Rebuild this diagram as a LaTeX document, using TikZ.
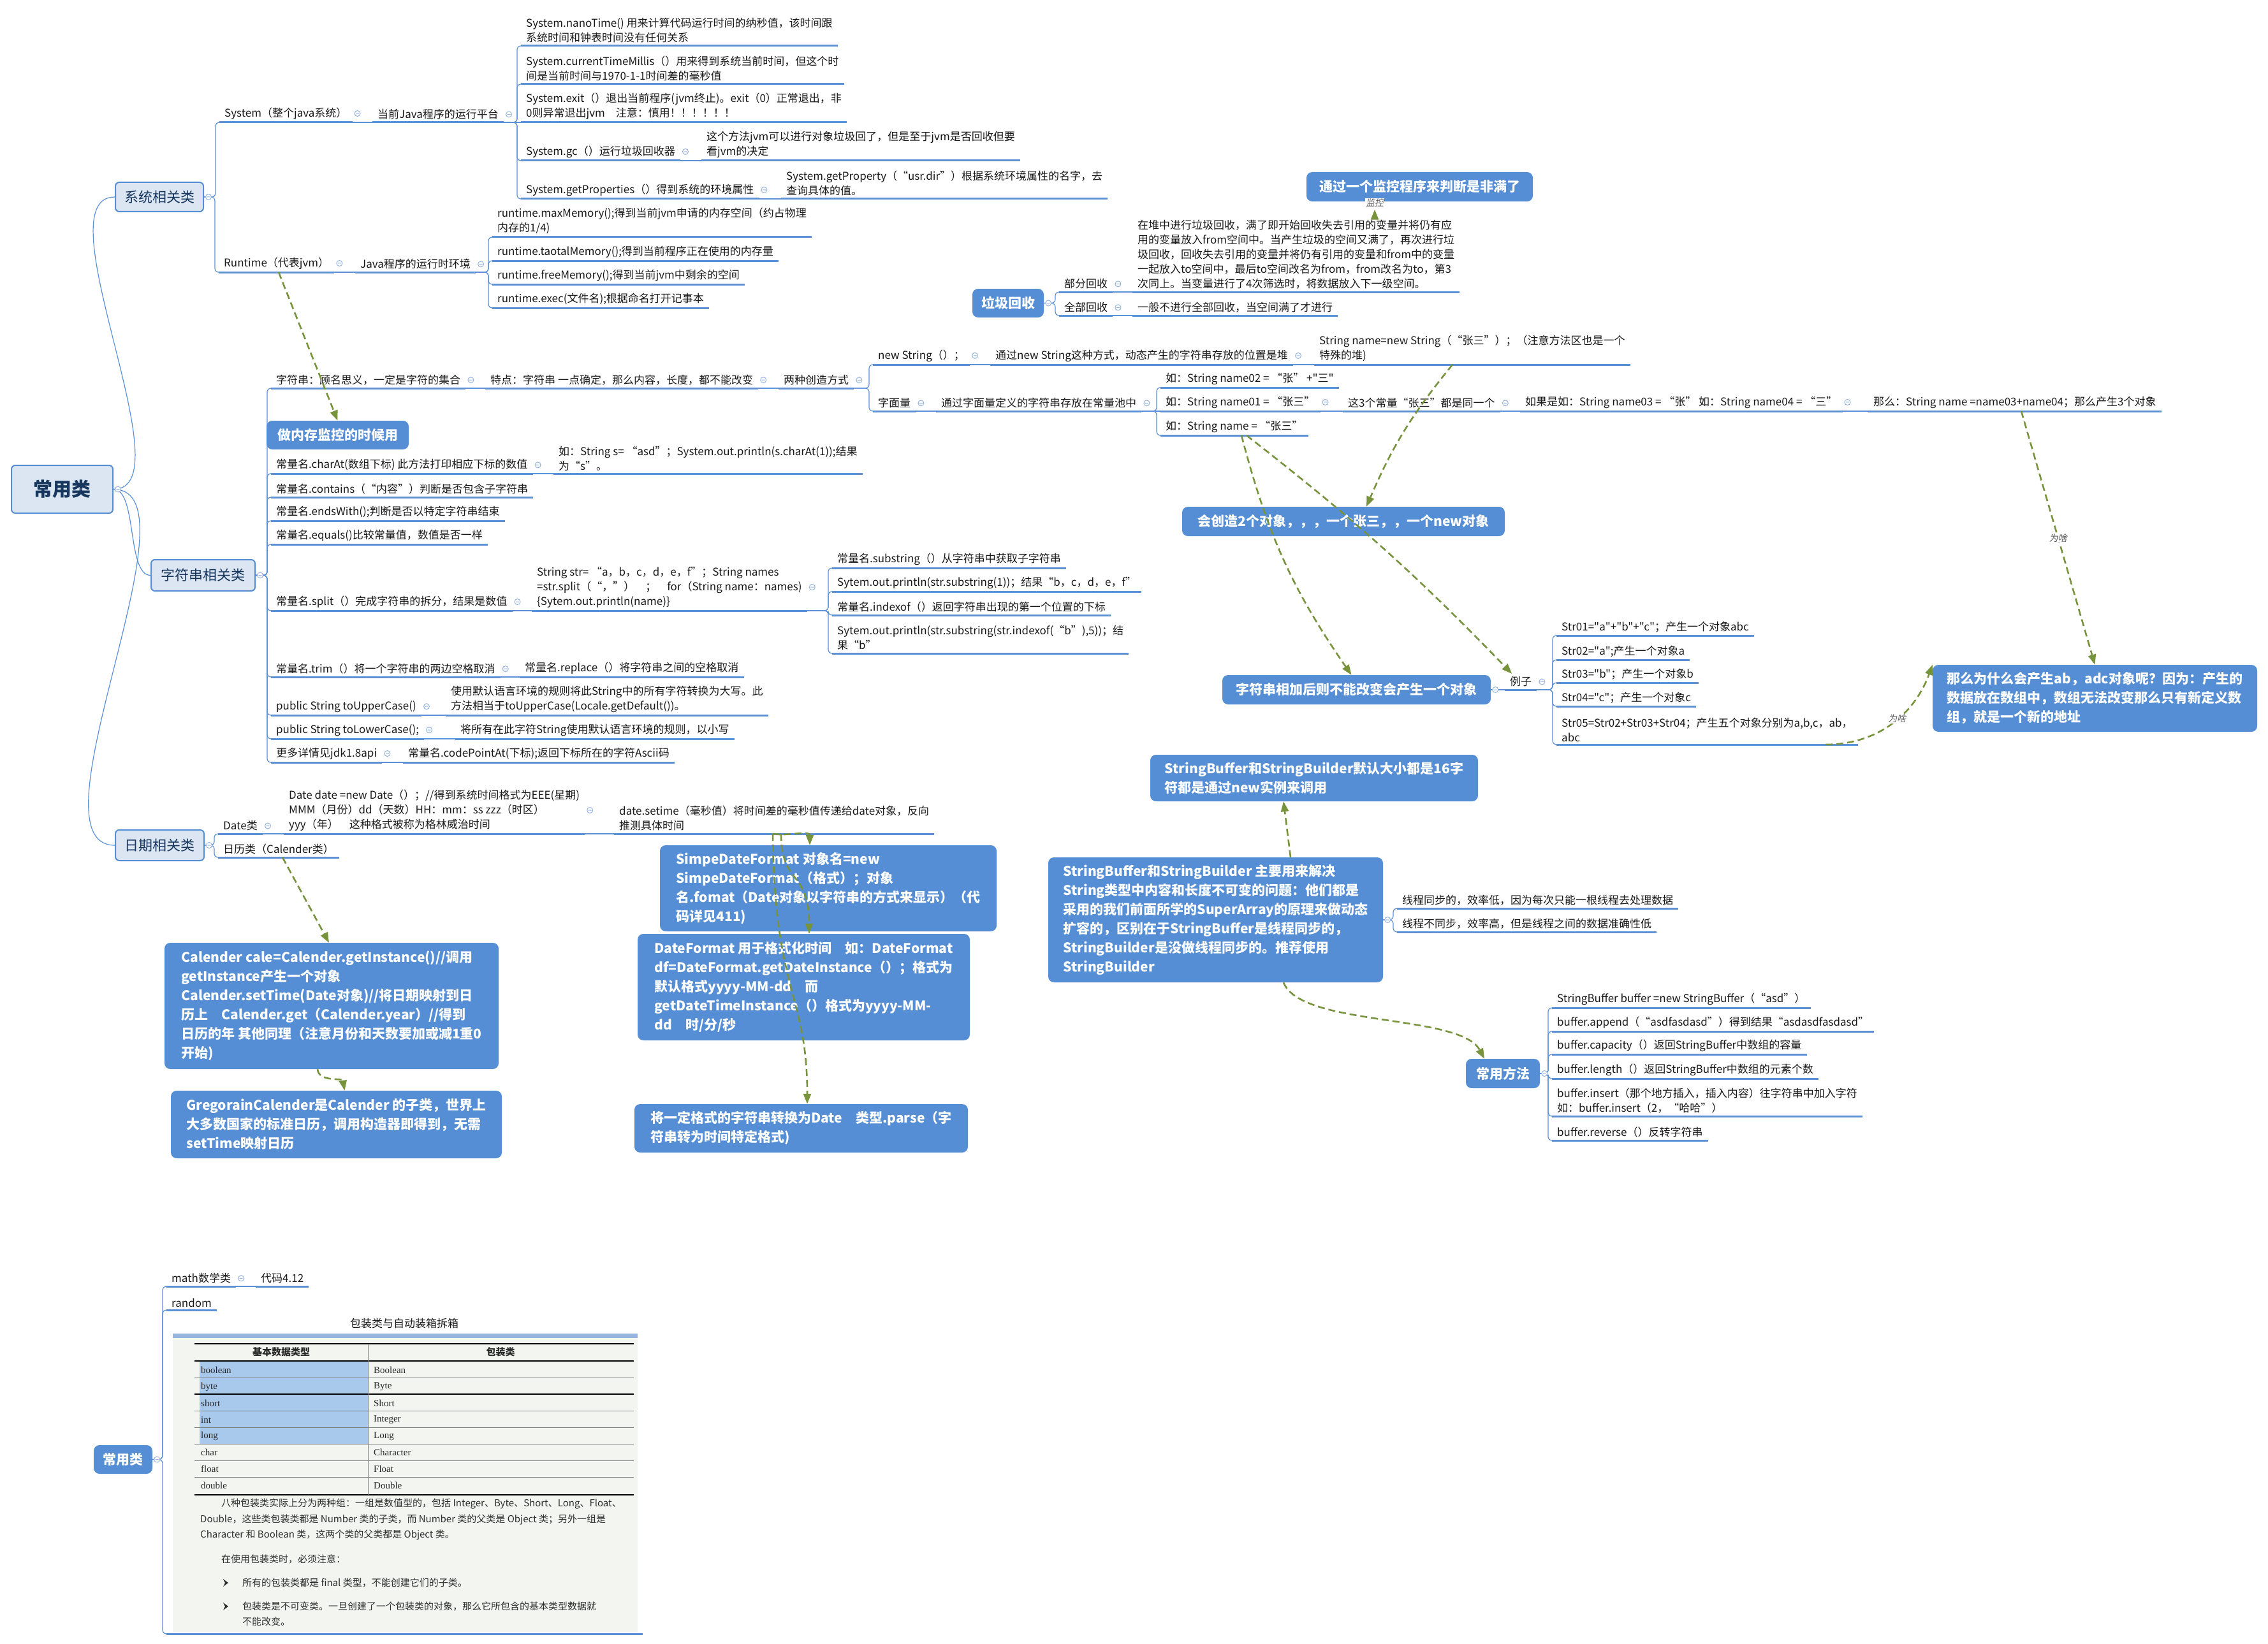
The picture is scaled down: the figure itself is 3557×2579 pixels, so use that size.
\documentclass[tikz,border=0pt]{standalone}
\usepackage{fontspec}
\newfontfamily\cjk{Noto Sans CJK SC}
\newfontfamily\tabserif{Liberation Serif}
\newfontfamily\slantcjk{Noto Sans CJK SC}[FakeSlant=0.2]
\usetikzlibrary{arrows.meta}

\definecolor{boxblue}{RGB}{85,142,213}
\definecolor{lineblue}{RGB}{91,143,214}
\definecolor{foldblue}{RGB}{150,180,225}
\definecolor{catfill}{RGB}{220,230,242}
\definecolor{cattext}{RGB}{23,55,94}
\definecolor{relgreen}{RGB}{119,147,60}
\definecolor{txt}{RGB}{25,25,25}
\definecolor{labelgray}{RGB}{90,90,90}
\definecolor{imgbg}{RGB}{243,245,241}
\definecolor{imgbar}{RGB}{150,182,224}
\definecolor{cellblue}{RGB}{168,200,236}
\definecolor{celltext}{RGB}{40,40,40}
\definecolor{paragray}{RGB}{45,45,45}

\newcommand\topicfont{\cjk\fontsize{17}{23}\selectfont}
\newcommand\boxfont{\cjk\bfseries\fontsize{21}{30}\selectfont}
\newcommand\catfont{\cjk\fontsize{22}{26}\selectfont}
\newcommand\rootfont{\cjk\bfseries\fontsize{30}{34}\selectfont}
\newcommand\cellfont{\tabserif\fontsize{15}{18}\selectfont}
\newcommand\parafont{\cjk\fontsize{15}{20}\selectfont}

\begin{document}
\begin{tikzpicture}[x=1pt,y=-1pt,
  ul/.style={draw=lineblue,line width=3pt},
  t/.style={anchor=south west,inner xsep=8pt,inner ysep=4.5pt,align=left,
    text=txt,font=\topicfont,
    append after command={(\tikzlastnode.south west) edge[ul] (\tikzlastnode.south east)}},
  link/.style={draw=lineblue,line width=1.2pt,rounded corners=6pt},
  fold/.style={draw=foldblue,fill=white,line width=1pt},
  bx/.style={fill=boxblue,rounded corners=9pt,text=white,font=\boxfont,
    align=left,inner xsep=13pt,inner ysep=4pt},
  cat/.style={fill=catfill,draw=boxblue,line width=2pt,rounded corners=6pt,
    text=cattext,font=\catfont,inner sep=0pt},
  rel/.style={draw=relgreen,line width=2.6pt,dash pattern=on 11pt off 6pt,
    -{Triangle[length=16pt,width=12pt]}},
  why/.style={font=\slantcjk\fontsize{14}{16}\selectfont,text=labelgray,fill=white,inner sep=1pt},
  cell/.style={anchor=west,font=\cellfont,text=celltext,inner sep=0pt},
  para/.style={anchor=west,font=\parafont,text=paragray,inner sep=0pt}]
\useasboundingbox (0,0) rectangle (3557,2579);
\fill[white] (0,0) rectangle (3557,2579);

% main branches
\node[cat,font=\rootfont,minimum width=159pt,minimum height=75pt] (root) at (97.5,767.5) {常用类};
\node[cat,minimum width=138pt,minimum height=46pt] (sysbox) at (250,309) {系统相关类};
\node[cat,minimum width=163pt,minimum height=49pt] (strbox) at (318.5,902.5) {字符串相关类};
\node[cat,minimum width=139pt,minimum height=48pt] (datebox) at (250.5,1326) {日期相关类};

% System / Runtime
\node[t] (sys) at (344,192) {System（整个java系统）};
\node[t] (sysplat) at (584,192) {当前Java程序的运行平台};
\node[t] (nano) at (817,72) {System.nanoTime() 用来计算代码运行时间的纳秒值，该时间跟\\系统时间和钟表时间没有任何关系};
\node[t] (ctm) at (817,132) {System.currentTimeMillis（）用来得到系统当前时间，但这个时\\间是当前时间与1970-1-1时间差的毫秒值};
\node[t] (exit) at (817,192) {System.exit（）退出当前程序(jvm终止)。exit（0）正常退出，非\\0则异常退出jvm\quad 注意：慎用！！！！！！};
\node[t] (gc) at (817,252) {System.gc（）运行垃圾回收器};
\node[t] (gcnote) at (1100,252) {这个方法jvm可以进行对象垃圾回了，但是至于jvm是否回收但要\\看jvm的决定};
\node[t] (prop) at (817,312) {System.getProperties（）得到系统的环境属性};
\node[t] (propnote) at (1225,312) {System.getProperty（“usr.dir”）根据系统环境属性的名字，去\\查询具体的值。};
\node[t] (rt) at (343,427) {Runtime（代表jvm）};
\node[t] (rtenv) at (557,427) {Java程序的运行时环境};
\node[t] (maxm) at (772,372) {runtime.maxMemory();得到当前jvm申请的内存空间（约占物理\\内存的1/4)};
\node[t] (totm) at (772,409) {runtime.taotalMemory();得到当前程序正在使用的内存量};
\node[t] (freem) at (772,446) {runtime.freeMemory();得到当前jvm中剩余的空间};
\node[t] (execm) at (772,483) {runtime.exec(文件名);根据命名打开记事本};

% garbage collection
\node[bx,minimum width=355pt,minimum height=46pt] (monbox) at (2226.5,293) {通过一个监控程序来判断是非满了};
\node[bx,minimum width=112pt,minimum height=45pt] (gcbox) at (1581,475.5) {垃圾回收};
\node[t] (part) at (1661,458) {部分回收};
\node[t] (partnote) at (1776,458) {在堆中进行垃圾回收，满了即开始回收失去引用的变量并将仍有应\\用的变量放入from空间中。当产生垃圾的空间又满了，再次进行垃\\圾回收，回收失去引用的变量并将仍有引用的变量和from中的变量\\一起放入to空间中，最后to空间改名为from，from改名为to，第3\\次同上。当变量进行了4次筛选时，将数据放入下一级空间。};
\node[t] (full) at (1661,495) {全部回收};
\node[t] (fullnote) at (1776,495) {一般不进行全部回收，当空间满了才进行};
\node[why] (monlbl) at (2156,318) {监控};

% String
\node[t] (strdef) at (425,609) {字符串：顾名思义，一定是字符的集合};
\node[t] (strfeat) at (761,609) {特点：字符串 一点确定，那么内容，长度，都不能改变};
\node[t] (strways) at (1221,609) {两种创造方式};
\node[t] (newstr) at (1369,572) {new String（）；};
\node[t] (newheap) at (1553,572) {通过new String这种方式，动态产生的字符串存放的位置是堆};
\node[t] (newex) at (2061,572) {String name=new String（“张三”）；（注意方法区也是一个\\特殊的堆)};
\node[t] (lit) at (1369,645) {字面量};
\node[t] (litpool) at (1468,645) {通过字面量定义的字符串存放在常量池中};
\node[t] (ex02) at (1820,608) {如：String name02 = “张” +"三"};
\node[t] (ex01) at (1820,645) {如：String name01 = “张三”};
\node[t] (exname) at (1820,683) {如：String name = “张三”};
\node[t] (same3) at (2106,645) {这3个常量“张三”都是同一个};
\node[t] (ex0304) at (2384,645) {如果是如：String name03 = “张” 如：String name04 = “三”};
\node[t] (three) at (2930,645) {那么：String name =name03+name04；那么产生3个对象};
\node[t] (charat) at (425,743) {常量名.charAt(数组下标) 此方法打印相应下标的数值};
\node[t] (charatnote) at (868,743) {如：String s= “asd”；System.out.println(s.charAt(1));结果\\为“s”。};
\node[t] (contains) at (425,780) {常量名.contains（“内容”）判断是否包含子字符串};
\node[t] (ends) at (425,817) {常量名.endsWith();判断是否以特定字符串结束};
\node[t] (equals) at (425,854) {常量名.equals()比较常量值，数值是否一样};
\node[t] (split) at (425,958) {常量名.split（）完成字符串的拆分，结果是数值};
\node[t] (splitnote) at (834,958) {String str= “a，b，c，d，e，f”；String names\\=str.split（“，”）\quad；\quad for（String name：names)\\\{Sytem.out.println(name)\}};
\node[t] (substr) at (1305,891) {常量名.substring（）从字符串中获取子字符串};
\node[t] (subex) at (1305,928) {Sytem.out.println(str.substring(1))；结果“b，c，d，e，f”};
\node[t] (indexof) at (1305,965) {常量名.indexof（）返回字符串出现的第一个位置的下标};
\node[t] (idxex) at (1305,1025) {Sytem.out.println(str.substring(str.indexof(“b”),5))；结\\果“b”};
\node[t] (trim) at (425,1062) {常量名.trim（）将一个字符串的两边空格取消};
\node[t] (replace) at (815,1062) {常量名.replace（）将字符串之间的空格取消};
\node[t] (upper) at (425,1122) {public String toUpperCase()};
\node[t] (uppernote) at (699,1122) {使用默认语言环境的规则将此String中的所有字符转换为大写。此\\方法相当于toUpperCase(Locale.getDefault())。};
\node[t] (lower) at (425,1159) {public String toLowerCase();};
\node[t] (lowernote) at (714,1159) {将所有在此字符String使用默认语言环境的规则，以小写};
\node[t] (more) at (425,1196) {更多详情见jdk1.8api};
\node[t] (codept) at (632,1196) {常量名.codePointAt(下标);返回下标所在的字符Ascii码};
\node[bx,minimum width=223pt,minimum height=45pt] (monuse) at (529.5,682.5) {做内存监控的时候用};
\node[bx,minimum width=506pt,minimum height=46pt] (nobox) at (2107,818) {会创造2个对象，，，一个张三，，一个new对象};
\node[bx,minimum width=421pt,minimum height=46pt] (addbox) at (2127.5,1082) {字符串相加后则不能改变会产生一个对象};
\node[t] (eg) at (2360,1082) {例子};
\node[t] (s1) at (2441,997) {Str01="a"+"b"+"c"；产生一个对象abc};
\node[t] (s2) at (2441,1035) {Str02="a";产生一个对象a};
\node[t] (s3) at (2441,1071) {Str03="b"；产生一个对象b};
\node[t] (s4) at (2441,1108) {Str04="c"；产生一个对象c};
\node[t] (s5) at (2441,1168) {Str05=Str02+Str03+Str04；产生五个对象分别为a,b,c，ab，\\abc};
\node[bx,minimum width=509pt,minimum height=105pt] (whybox) at (3285.5,1095.5) {那么为什么会产生ab，adc对象呢？因为：产生的\\数据放在数组中，数组无法改变那么只有新定义数\\组，就是一个新的地址};

% Date
\node[t] (dcls) at (342,1308) {Date类};
\node[t] (dnew) at (445,1308) {Date date =new Date（）；//得到系统时间格式为EEE(星期)\\MMM（月份）dd（天数）HH：mm：ss zzz（时区）\\yyy（年）\quad 这种格式被称为格林威治时间};
\node[t] (dset) at (963,1308) {date.setime（毫秒值）将时间差的毫秒值传递给date对象，反向\\推测具体时间};
\node[t] (cal) at (342,1345) {日历类（Calender类）};
\node[bx,minimum width=528pt,minimum height=135pt] (sdfbox) at (1299,1393.5) {SimpeDateFormat\ 对象名=new\\SimpeDateFormat（格式）；对象\\名.fomat（Date对象以字符串的方式来显示）（代\\码详见411)};
\node[bx,minimum width=521pt,minimum height=167pt] (dfbox) at (1260.5,1548.5) {DateFormat 用于格式化时间\quad 如：DateFormat\\df=DateFormat.getDateInstance（）；格式为\\默认格式yyyy-MM-dd\quad 而\\getDateTimeInstance（）格式为yyyy-MM-\\dd\quad 时/分/秒};
\node[bx,minimum width=523pt,minimum height=76pt] (parsebox) at (1256.5,1770) {将一定格式的字符串转换为Date\quad 类型.parse（字\\符串转为时间特定格式)};
\node[bx,minimum width=524pt,minimum height=198pt] (calbox) at (520,1578) {Calender cale=Calender.getInstance()//调用\\getInstance产生一个对象\\Calender.setTime(Date对象)//将日期映射到日\\历上\quad Calender.get（Calender.year）//得到\\日历的年 其他同理（注意月份和天数要加或减1重0\\开始)};
\node[bx,minimum width=519pt,minimum height=106pt] (gregbox) at (527.5,1764) {GregorainCalender是Calender 的子类，世界上\\大多数国家的标准日历，调用构造器即得到，无需\\setTime映射日历};

% StringBuffer
\node[bx,minimum width=514pt,minimum height=73pt] (sb16) at (2061,1220.5) {StringBuffer和StringBuilder默认大小都是16字\\符都是通过new实例来调用};
\node[bx,minimum width=525pt,minimum height=196pt] (sbmain) at (1906.5,1443) {StringBuffer和StringBuilder 主要用来解决\\String类型中内容和长度不可变的问题：他们都是\\采用的我们前面所学的SuperArray的原理来做动态\\扩容的，区别在于StringBuffer是线程同步的，\\StringBuilder是没做线程同步的。推荐使用\\StringBuilder};
\node[t] (sync) at (2191,1425) {线程同步的，效率低，因为每次只能一根线程去处理数据};
\node[t] (nosync) at (2191,1462) {线程不同步，效率高，但是线程之间的数据准确性低};
\node[bx,minimum width=116pt,minimum height=46pt] (methods) at (2357,1684) {常用方法};
\node[t] (m1) at (2434,1581) {StringBuffer buffer =new StringBuffer（“asd”）};
\node[t] (m2) at (2434,1618) {buffer.append（“asdfasdasd”）得到结果“asdasdfasdasd”};
\node[t] (m3) at (2434,1654) {buffer.capacity（）返回StringBuffer中数组的容量};
\node[t] (m4) at (2434,1692) {buffer.length（）返回StringBuffer中数组的元素个数};
\node[t] (m5) at (2434,1751) {buffer.insert（那个地方插入，插入内容）往字符串中加入字符\\如：buffer.insert（2，“哈哈”）};
\node[t] (m6) at (2434,1789) {buffer.reverse（）反转字符串};

% second root with the wrapper table
\node[bx,minimum width=92pt,minimum height=45pt] (root2) at (193,2289.5) {常用类};
\node[t] (math) at (261,2018) {math数学类};
\node[t] (code) at (401,2018) {代码4.12};
\node[t] (rand) at (261,2055) {random};
\node[t,minimum width=747pt,inner ysep=0pt] (wrap) at (261,2563) {};
\node[font=\topicfont,text=txt] (wraptitle) at (634,2076) {包装类与自动装箱拆箱};
\fill[imgbg] (271,2092) rectangle (1000,2560);
\fill[imgbar] (271,2092) rectangle (1000,2099);
\fill[cellblue] (313,2136) rectangle (577,2265);
\foreach \y in {2161,2213,2239,2265,2291,2317} \draw[gray,line width=0.8pt] (305,\y) -- (994,\y);
\foreach \y in {2108,2135,2187,2345} \draw[black,line width=1.6pt] (305,\y) -- (994,\y);
\draw[gray,line width=0.8pt] (577,2108) -- (577,2345);
\node[font=\cjk\bfseries\fontsize{15}{18}\selectfont,text=celltext] (hd1) at (441,2121) {基本数据类型};
\node[font=\cjk\bfseries\fontsize{15}{18}\selectfont,text=celltext] (hd2) at (785,2121) {包装类};
\foreach \a/\b [count=\i] in {boolean/Boolean,byte/Byte,short/Short,int/Integer,long/Long,char/Character,float/Float,double/Double}{
  \node[cell] (p\i) at (315,{2124+25.8*\i}) {\a};
  \node[cell] (w\i) at (586,{2124+25.8*\i}) {\b};
}
\node[para] (pa1) at (347,2359) {八种包装类实际上分为两种组：一组是数值型的，包括 Integer、Byte、Short、Long、Float、};
\node[para] (pa2) at (314,2384) {Double，这些类包装类都是 Number 类的子类，而 Number 类的父类是 Object 类；另外一组是};
\node[para] (pa3) at (314,2408) {Character 和 Boolean 类，这两个类的父类都是 Object 类。};
\node[para] (pa4) at (347,2446) {在使用包装类时，必须注意：};
\node[para] (pa5) at (380,2483) {所有的包装类都是 final 类型，不能创建它们的子类。};
\node[para] (pa6) at (380,2520) {包装类是不可变类。一旦创建了一个包装类的对象，那么它所包含的基本类型数据就};
\node[para] (pa7) at (380,2544) {不能改变。};
\foreach \y in {2483,2520} \fill[paragray] (350,\y-6) -- (358,\y) -- (350,\y+6) -- (353,\y) -- cycle;

% connectors
\foreach \c in {sysbox,strbox,datebox} \draw[link] (root.east) to[out=0,in=180,looseness=0.65] (\c.west);
\foreach \c in {sys,rt} \draw[link] (sysbox.east) -| ([xshift=-6pt]\c.south west) -- (\c.south west);
\draw[link] (sys.south east) -- (sysplat.south west);
\foreach \c in {nano,ctm,gc,prop} \draw[link] (sysplat.south east) -| ([xshift=-6pt]\c.south west) -- (\c.south west);
\draw[link] (sysplat.south east) -- (exit.south west);
\draw[link] (gc.south east) -- (gcnote.south west);
\draw[link] (prop.south east) -- (propnote.south west);
\draw[link] (rt.south east) -- (rtenv.south west);
\foreach \c in {maxm,totm,freem,execm} \draw[link] (rtenv.south east) -| ([xshift=-6pt]\c.south west) -- (\c.south west);
\foreach \c in {part,full} \draw[link] (gcbox.east) -| ([xshift=-6pt]\c.south west) -- (\c.south west);
\draw[link] (part.south east) -- (partnote.south west);
\draw[link] (full.south east) -- (fullnote.south west);
\foreach \c in {strdef,charat,contains,ends,equals,split,trim,upper,lower,more} \draw[link] (strbox.east) -| ([xshift=-6pt]\c.south west) -- (\c.south west);
\draw[link] (strdef.south east) -- (strfeat.south west);
\draw[link] (strfeat.south east) -- (strways.south west);
\foreach \c in {newstr,lit} \draw[link] (strways.south east) -| ([xshift=-6pt]\c.south west) -- (\c.south west);
\draw[link] (newstr.south east) -- (newheap.south west);
\draw[link] (newheap.south east) -- (newex.south west);
\draw[link] (lit.south east) -- (litpool.south west);
\foreach \c in {ex02,exname} \draw[link] (litpool.south east) -| ([xshift=-6pt]\c.south west) -- (\c.south west);
\draw[link] (litpool.south east) -- (ex01.south west);
\draw[link] (ex01.south east) -- (same3.south west);
\draw[link] (same3.south east) -- (ex0304.south west);
\draw[link] (ex0304.south east) -- (three.south west);
\draw[link] (charat.south east) -- (charatnote.south west);
\draw[link] (split.south east) -- (splitnote.south west);
\foreach \c in {substr,subex,indexof,idxex} \draw[link] (splitnote.south east) -| ([xshift=-6pt]\c.south west) -- (\c.south west);
\draw[link] (trim.south east) -- (replace.south west);
\draw[link] (upper.south east) -- (uppernote.south west);
\draw[link] (lower.south east) -- (lowernote.south west);
\draw[link] (more.south east) -- (codept.south west);
\draw[link] (addbox.east) -- (eg.south west);
\foreach \c in {s1,s2,s3,s4,s5} \draw[link] (eg.south east) -| ([xshift=-6pt]\c.south west) -- (\c.south west);
\foreach \c in {dcls,cal} \draw[link] (datebox.east) -| ([xshift=-6pt]\c.south west) -- (\c.south west);
\draw[link] (dcls.south east) -- (dnew.south west);
\draw[link] (dnew.south east) -- (dset.south west);
\foreach \c in {sync,nosync} \draw[link] (sbmain.east) -| ([xshift=-6pt]\c.south west) -- (\c.south west);
\foreach \c in {m1,m2,m3,m4,m5,m6} \draw[link] (methods.east) -| ([xshift=-6pt]\c.south west) -- (\c.south west);
\foreach \c in {math,rand,wrap} \draw[link] (root2.east) -| ([xshift=-6pt]\c.south west) -- (\c.south west);
\draw[link] (math.south east) -- (code.south west);

% fold marks
\foreach \n in {sys,sysplat,gc,prop,rt,rtenv,part,full,strdef,strfeat,strways,newstr,newheap,lit,litpool,ex01,same3,ex0304,charat,split,splitnote,trim,upper,lower,more,dcls,dnew,math,eg}
  \draw[fold] ([xshift=8pt]\n.east) circle (4.5pt) ++(-2.5pt,0) -- ++(5pt,0);
\foreach \n in {root,sysbox,strbox,datebox,gcbox,addbox,sbmain,methods,root2}
  \draw[fold] ([xshift=7pt]\n.east) circle (4.5pt) ++(-2.5pt,0) -- ++(5pt,0);

% relations
\draw[rel] ([xshift=94pt]rt.south west) -- (monuse.north);
\draw[rel] (monlbl.south |- partnote.north) -- ([yshift=-3pt]monlbl.south);
\draw[rel] ([xshift=217pt]newex.south west) to[bend right=8] ([xshift=36pt]nobox.north);
\draw[rel] ([xshift=127pt]exname.south west) to[bend right=10] ([xshift=-8pt]addbox.north);
\draw[rel] ([xshift=135pt]exname.south west) to[bend left=4] ([xshift=-14pt]eg.north);
\draw[rel] ([xshift=240pt]three.south west) -- node[why]{为啥} (whybox.north);
\draw[rel] ([xshift=422pt]s5.south west) to[out=0,in=250] node[why,pos=0.55]{为啥} (whybox.north west);
\draw[rel] ([xshift=101pt]cal.south west) -- ([xshift=-4pt]calbox.north);
\draw[rel] ([xshift=-22pt]calbox.south) to[out=275,in=100] ([xshift=13pt]gregbox.north);
\draw[rel] ([xshift=249pt]dset.south west) to[out=-10,in=90] ([xshift=-29pt]sdfbox.north);
\draw[rel] ([xshift=262pt]dset.south west) .. controls +(0,80) and +(0,-100) .. ([xshift=8.5pt]dfbox.north);
\draw[rel] ([xshift=249pt]dset.south west) .. controls +(3,252) and +(0,-172) .. ([xshift=9.5pt]parsebox.north);
\draw[rel] ([xshift=117.5pt]sbmain.north) -- ([xshift=-48pt]sb16.south);
\draw[rel] ([xshift=106.5pt]sbmain.south) .. controls +(27,70) and +(-38,-71) .. ([xshift=-29pt]methods.north);
\end{tikzpicture}
\end{document}
